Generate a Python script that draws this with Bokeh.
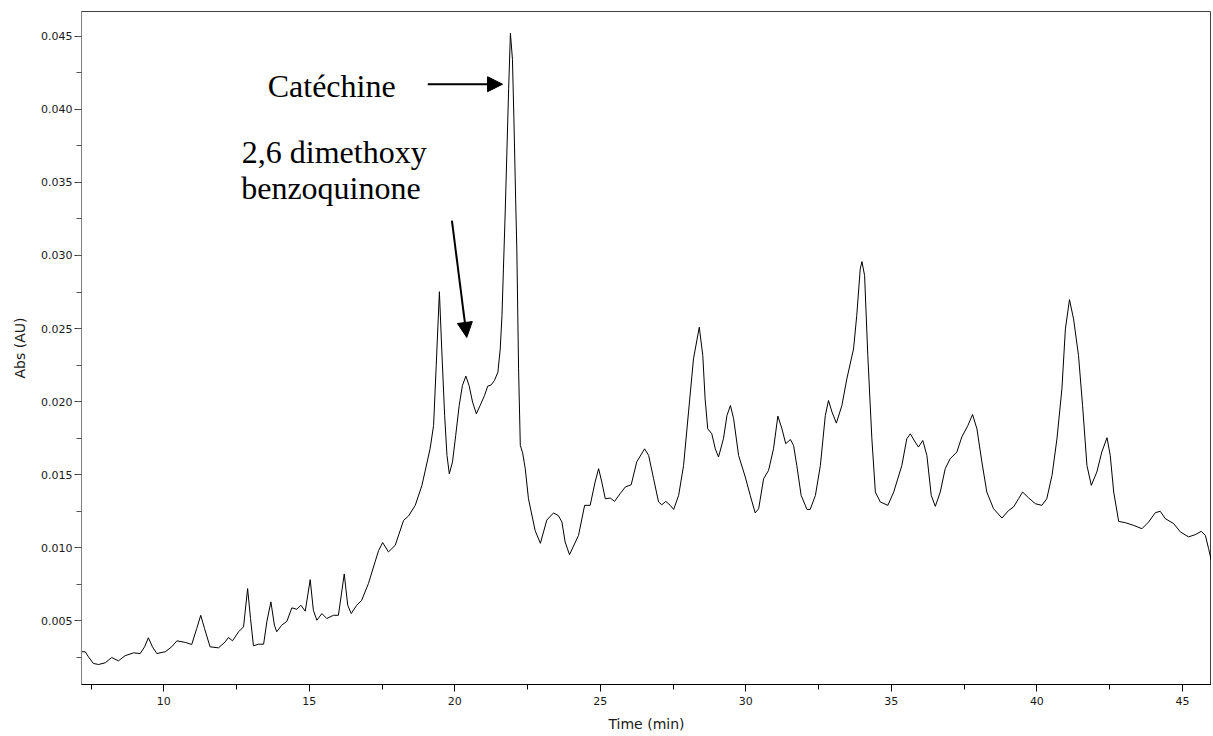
from bokeh.plotting import figure
from bokeh.models import Arrow, NormalHead, Label, FixedTicker, NumeralTickFormatter, Range1d
from bokeh.embed import file_html
from bokeh.resources import INLINE

# Chromatogram
time_min = [7.18, 7.30, 7.41, 7.58, 7.76, 7.99, 8.21, 8.44, 8.67, 8.96, 9.19, 9.34, 9.47, 9.61, 9.76,
            10.05, 10.27, 10.45, 10.74, 10.96, 11.13, 11.27, 11.40, 11.59, 11.88, 12.11, 12.22, 12.36,
            12.57, 12.74, 12.88, 12.98, 13.08, 13.25, 13.43, 13.54, 13.68, 13.80, 13.88, 14.05, 14.23,
            14.40, 14.57, 14.71, 14.86, 15.03, 15.14, 15.26, 15.43, 15.60, 15.83, 16.00, 16.20, 16.32,
            16.44, 16.63, 16.80, 17.03, 17.26, 17.38, 17.52, 17.72, 17.95, 18.24, 18.41, 18.64, 18.87,
            19.15, 19.27, 19.36, 19.47, 19.55, 19.65, 19.73, 19.81, 19.92, 20.03, 20.15, 20.26, 20.38,
            20.49, 20.61, 20.74, 20.87, 21.02, 21.13, 21.25, 21.36, 21.48, 21.56, 21.62, 21.67, 21.73,
            21.85, 21.91, 21.98, 22.03, 22.09, 22.13, 22.19, 22.25, 22.33, 22.42, 22.53, 22.76, 22.94,
            23.16, 23.39, 23.56, 23.68, 23.79, 23.94, 24.25, 24.46, 24.65, 24.82, 24.94, 25.05, 25.17,
            25.34, 25.49, 25.68, 25.86, 26.06, 26.25, 26.52, 26.66, 26.83, 27.00, 27.11, 27.25, 27.40,
            27.52, 27.69, 27.86, 28.03, 28.20, 28.40, 28.52, 28.60, 28.69, 28.83, 28.95, 29.06, 29.23,
            29.35, 29.47, 29.58, 29.75, 29.98, 30.15, 30.32, 30.44, 30.61, 30.78, 30.95, 31.10, 31.24,
            31.37, 31.53, 31.64, 31.75, 31.90, 32.10, 32.21, 32.39, 32.56, 32.73, 32.84, 32.96, 33.11,
            33.30, 33.47, 33.70, 33.81, 33.93, 33.99, 34.08, 34.19, 34.33, 34.45, 34.62, 34.88, 35.08,
            35.36, 35.53, 35.65, 35.82, 35.93, 36.08, 36.22, 36.37, 36.51, 36.68, 36.85, 37.02, 37.25,
            37.42, 37.63, 37.79, 37.94, 38.11, 38.28, 38.51, 38.80, 39.03, 39.20, 39.37, 39.51, 39.72,
            39.95, 40.17, 40.34, 40.52, 40.69, 40.86, 40.98, 41.12, 41.26, 41.43, 41.57, 41.72, 41.87,
            42.06, 42.23, 42.41, 42.52, 42.64, 42.81, 43.04, 43.32, 43.61, 43.84, 44.07, 44.24, 44.41,
            44.70, 44.93, 45.21, 45.44, 45.65, 45.79, 45.90, 45.99]

absorbance = [0.00286, 0.00286, 0.00252, 0.00206, 0.00199, 0.00211, 0.00247, 0.00224, 0.00259, 0.00279,
              0.00274, 0.00320, 0.00382, 0.00320, 0.00274, 0.00286, 0.00320, 0.00361, 0.00350, 0.00336,
              0.00445, 0.00536, 0.00445, 0.00320, 0.00313, 0.00354, 0.00384, 0.00361, 0.00423, 0.00457,
              0.00719, 0.00514, 0.00327, 0.00338, 0.00338, 0.00491, 0.00628, 0.00468, 0.00423, 0.00468,
              0.00495, 0.00587, 0.00577, 0.00605, 0.00564, 0.00780, 0.00570, 0.00502, 0.00548, 0.00514,
              0.00536, 0.00536, 0.00819, 0.00605, 0.00548, 0.00605, 0.00639, 0.00753, 0.00902, 0.00979,
              0.01034, 0.00970, 0.01015, 0.01186, 0.01216, 0.01289, 0.01426, 0.01676, 0.01836, 0.02246,
              0.02752, 0.02360, 0.01904, 0.01631, 0.01505, 0.01586, 0.01767, 0.01973, 0.02109, 0.02174,
              0.02109, 0.01996, 0.01916, 0.01973, 0.02041, 0.02105, 0.02114, 0.02144, 0.02201, 0.02360,
              0.02588, 0.02908, 0.03291, 0.04146, 0.04522, 0.04344, 0.03934, 0.03386, 0.03044, 0.02224,
              0.01699, 0.01649, 0.01540, 0.01334, 0.01116, 0.01029, 0.01188, 0.01237, 0.01218, 0.01175,
              0.01038, 0.00951, 0.01083, 0.01289, 0.01289, 0.01449, 0.01540, 0.01449, 0.01334, 0.01339,
              0.01316, 0.01369, 0.01415, 0.01430, 0.01586, 0.01676, 0.01631, 0.01471, 0.01312, 0.01293,
              0.01316, 0.01289, 0.01261, 0.01357, 0.01562, 0.01928, 0.02292, 0.02509, 0.02315, 0.02018,
              0.01813, 0.01779, 0.01676, 0.01620, 0.01745, 0.01904, 0.01973, 0.01882, 0.01631, 0.01483,
              0.01357, 0.01237, 0.01266, 0.01471, 0.01528, 0.01676, 0.01900, 0.01813, 0.01711, 0.01740,
              0.01699, 0.01562, 0.01357, 0.01261, 0.01261, 0.01357, 0.01562, 0.01904, 0.02007, 0.01928,
              0.01852, 0.01973, 0.02155, 0.02360, 0.02588, 0.02908, 0.02958, 0.02862, 0.02315, 0.01745,
              0.01380, 0.01312, 0.01289, 0.01380, 0.01562, 0.01745, 0.01779, 0.01722, 0.01688, 0.01733,
              0.01631, 0.01357, 0.01282, 0.01380, 0.01540, 0.01608, 0.01654, 0.01757, 0.01836, 0.01911,
              0.01813, 0.01586, 0.01380, 0.01266, 0.01202, 0.01254, 0.01278, 0.01334, 0.01380, 0.01339,
              0.01300, 0.01289, 0.01334, 0.01494, 0.01745, 0.02087, 0.02497, 0.02698, 0.02566, 0.02315,
              0.01973, 0.01562, 0.01426, 0.01517, 0.01654, 0.01752, 0.01631, 0.01380, 0.01179, 0.01170,
              0.01152, 0.01129, 0.01175, 0.01239, 0.01248, 0.01198, 0.01164, 0.01107, 0.01073, 0.01088,
              0.01111, 0.01083, 0.00993, 0.00913]

x_ticks = [10, 15, 20, 25, 30, 35, 40, 45]
x_minor = [7.5, 10, 12.5, 15, 17.5, 20, 22.5, 25, 27.5, 30, 32.5, 35, 37.5, 40, 42.5, 45]
y_ticks = [0.005, 0.010, 0.015, 0.020, 0.025, 0.030, 0.035, 0.040, 0.045]
y_minor = [0.0025, 0.005, 0.0075, 0.010, 0.0125, 0.015, 0.0175, 0.020, 0.0225, 0.025, 0.0275,
           0.030, 0.0325, 0.035, 0.0375, 0.040, 0.0425, 0.045]

# Annotations (data units)
label_texts = ["Catéchine", "2,6 dimethoxy", "benzoquinone"]
label_x = [13.57, 12.68, 12.66]
label_y = [0.04160, 0.03710, 0.03464]
arrow_x0 = [19.07, 19.90]
arrow_y0 = [0.04173, 0.03238]
arrow_x1 = [21.64, 20.41]
arrow_y1 = [0.04173, 0.02439]

p = figure(width=1211, height=734, output_backend="svg", toolbar_location=None,
           x_range=Range1d(7.172, 46.0), y_range=Range1d(0.00062, 0.04671),
           min_border_left=81, min_border_right=0, min_border_top=11, min_border_bottom=48)

p.line(time_min, absorbance, line_color="black", line_width=1)

p.xgrid.visible = False
p.ygrid.visible = False
p.outline_line_color = "#404040"
p.outline_line_width = 1
p.background_fill_color = "white"
p.border_fill_color = "white"

xa = p.xaxis[0]
xa.ticker = FixedTicker(ticks=x_ticks, minor_ticks=x_minor)
xa.formatter = NumeralTickFormatter(format="0")
xa.axis_label = "Time (min)"
xa.axis_line_color = "black"
xa.major_tick_line_color = "black"
xa.minor_tick_line_color = "black"
xa.major_tick_out = 7
xa.major_tick_in = 0
xa.minor_tick_out = 5
xa.minor_tick_in = 0
xa.major_label_standoff = 5
xa.axis_label_standoff = 8

ya = p.yaxis[0]
ya.ticker = FixedTicker(ticks=y_ticks, minor_ticks=y_minor)
ya.formatter = NumeralTickFormatter(format="0.000")
ya.axis_label = "Abs (AU)"
ya.axis_line_color = "#808080"
ya.major_tick_line_color = "#333333"
ya.minor_tick_line_color = "#555555"
ya.major_tick_out = 7
ya.major_tick_in = 0
ya.minor_tick_out = 5
ya.minor_tick_in = 0
ya.major_label_standoff = 2
ya.axis_label_standoff = 10

for ax in (xa, ya):
    ax.major_label_text_font = "DejaVu Sans"
    ax.major_label_text_font_size = "11px"
    ax.major_label_text_color = "#1a1a1a"
    ax.major_label_text_line_height = 1.0
    ax.axis_label_text_font = "DejaVu Sans"
    ax.axis_label_text_font_size = "14px"
    ax.axis_label_text_font_style = "normal"
    ax.axis_label_text_color = "#1a1a1a"
    ax.axis_label_text_line_height = 1.0

for t, x, y in zip(label_texts, label_x, label_y):
    p.add_layout(Label(x=x, y=y, text=t, text_font="Liberation Serif", text_font_size="32px",
                       text_color="black", text_baseline="alphabetic", text_align="left"))

for x0, y0, x1, y1 in zip(arrow_x0, arrow_y0, arrow_x1, arrow_y1):
    p.add_layout(Arrow(end=NormalHead(size=15, fill_color="black", line_color="black"),
                       x_start=x0, y_start=y0, x_end=x1, y_end=y1,
                       line_color="black", line_width=2))

open("out.html", "w").write(file_html(p, INLINE))
